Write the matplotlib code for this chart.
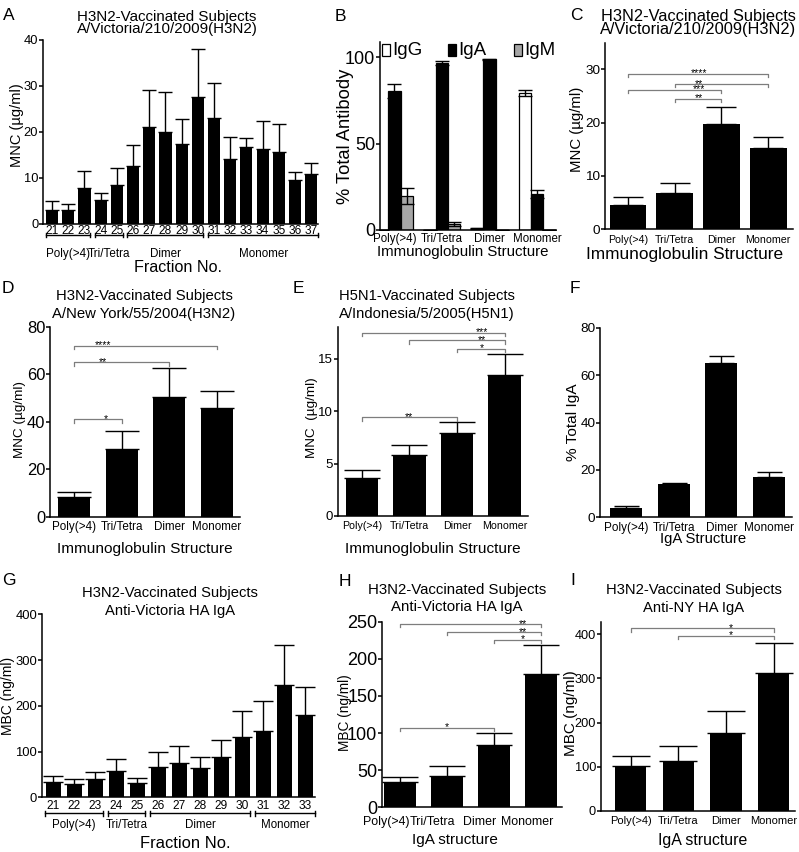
import numpy as np
import matplotlib
matplotlib.use("Agg")
import matplotlib.pyplot as plt
from matplotlib.patches import Rectangle

plt.rcParams["font.family"] = ["Liberation Sans", "DejaVu Sans"]

# ---------------- data ----------------
structures = ["Poly(>4)", "Tri/Tetra", "Dimer", "Monomer"]
group_names = ["Poly(>4)", "Tri/Tetra", "Dimer", "Monomer"]

fractions_a = ["21", "22", "23", "24", "25", "26", "27", "28", "29", "30",
               "31", "32", "33", "34", "35", "36", "37"]
mnc_a = [3.0, 3.0, 7.9, 5.2, 8.5, 12.7, 21.0, 19.9, 17.5, 27.5,
         23.0, 14.2, 16.8, 16.2, 15.7, 9.6, 10.9]
sem_a = [1.9, 1.3, 3.7, 1.5, 3.6, 4.5, 8.1, 8.7, 5.3, 10.6,
         7.6, 4.8, 2.0, 6.1, 6.0, 1.6, 2.4]
groups_a = [(0, 2), (3, 4), (5, 9), (10, 16)]

igg_b = [0.0, 0.0, 1.0, 79.0]
igg_sem_b = [0.0, 0.0, 0.3, 1.8]
iga_b = [80.3, 96.7, 98.8, 20.6]
iga_sem_b = [4.2, 1.3, 0.3, 2.3]
igm_b = [19.6, 3.5, 0.0, 0.0]
igm_sem_b = [4.4, 1.3, 0.0, 0.0]

mnc_c = [4.55, 6.8, 19.7, 15.3]
sem_c = [1.55, 1.9, 3.3, 1.9]
sig_c = [(0, 3, 29.1, "****"), (1, 3, 27.2, "**"), (0, 2, 26.1, "***"), (1, 2, 24.4, "**")]

mnc_d = [8.2, 28.4, 50.5, 45.9]
sem_d = [2.3, 7.7, 12.0, 7.0]
sig_d = [(0, 3, 71.9, "****"), (0, 2, 65.0, "**"), (0, 1, 41.0, "*")]

mnc_e = [3.6, 5.83, 7.9, 13.47]
sem_e = [0.76, 0.95, 1.1, 2.0]
sig_e = [(0, 3, 17.5, "***"), (1, 3, 16.75, "**"), (2, 3, 15.95, "*"), (0, 2, 9.4, "**")]

pct_f = [3.8, 14.05, 65.2, 16.9]
sem_f = [0.8, 0.55, 2.7, 2.1]

fractions_g = ["21", "22", "23", "24", "25", "26", "27", "28", "29", "30",
               "31", "32", "33"]
mbc_g = [32.8, 29.8, 40.8, 57.5, 31.3, 65.6, 75.6, 63.4, 88.7, 131.0,
         145.0, 245.0, 180.0]
sem_g = [13.8, 9.5, 13.8, 25.5, 11.6, 34.1, 37.2, 25.3, 36.3, 57.6,
         66.0, 88.0, 62.0]
groups_g = [(0, 2), (3, 4), (5, 9), (10, 12)]

mbc_h = [33.7, 42.6, 83.5, 179.2]
sem_h = [6.7, 13.5, 17.0, 39.5]
sig_h = [(0, 3, 246.6, "**"), (1, 3, 235.8, "**"), (2, 3, 225.5, "*"), (0, 2, 107.3, "*")]

mbc_i = [102.0, 112.6, 175.5, 311.6]
sem_i = [22.7, 34.8, 50.5, 68.0]
sig_i = [(0, 3, 413.6, "*"), (1, 3, 396.2, "*")]

# ---------------- layout helpers (pixel based) ----------------
W, H = 799, 852
fig = plt.figure(figsize=(W / 100, H / 100), dpi=100)


def axes_px(x0, x1, y0, y1):
    ax = fig.add_axes([x0 / W, 1 - y1 / H, (x1 - x0) / W, (y1 - y0) / H])
    ax.px_box = (x0, x1, y0, y1)
    return ax


def text_px(x, y, s, size, **kw):
    kw.setdefault("ha", "center")
    kw.setdefault("va", "baseline")
    fig.text(x / W, 1 - y / H, s, fontsize=size, **kw)


def style(ax, xlim, ylim, yticks, ysize, xsize, xpad):
    ax.set_xlim(*xlim)
    ax.set_ylim(*ylim)
    ax.set_yticks(yticks)
    for s in ["top", "right"]:
        ax.spines[s].set_visible(False)
    for s in ["left", "bottom"]:
        ax.spines[s].set_linewidth(1.1)
    ax.tick_params(axis="y", length=2.6, width=1.1, pad=0.8, labelsize=ysize)
    ax.tick_params(axis="x", length=0, pad=xpad, labelsize=xsize)


def bars(ax, vals, sems, width, cap):
    x = np.arange(len(vals))
    ax.bar(x, vals, width, color="black", linewidth=0,
           yerr=[np.zeros(len(vals)), sems],
           error_kw=dict(ecolor="black", elinewidth=1.0, capsize=cap, capthick=1.0))
    return x


def sig(ax, specs, star_x):
    y0, y1 = ax.get_ylim()
    hpx = ax.px_box[3] - ax.px_box[2]
    tick = 3.2 * (y1 - y0) / hpx
    for (i, j, y, lab), sx in zip(specs, star_x):
        ax.plot([i, i, j, j], [y - tick, y, y, y - tick], color="#7d7d7d",
                lw=0.9, clip_on=False)
        ax.annotate(lab, (sx, y), xytext=(0, -1.8), textcoords="offset points",
                    ha="center", va="baseline", fontsize=7.5)


def group_brackets(ax, groups, names, y_line, y_lab, size, gap):
    x0, x1, top, bot = ax.px_box
    hpx = bot - top
    f = (bot - y_line) / hpx
    fl = (bot - y_lab) / hpx
    d = 2.4 / hpx
    tr = ax.get_xaxis_transform()
    right = ax.get_xlim()[1]
    for k, ((s, e), name) in enumerate(zip(groups, names)):
        a = s - 0.4 if k == 0 else s - 0.5 + gap
        b = right if k == len(groups) - 1 else e + 0.5 - gap
        ax.plot([a, b], [f, f], transform=tr, color="black", lw=1.0, clip_on=False)
        for xx in (a, b):
            ax.plot([xx, xx], [f - d, f + d], transform=tr, color="black",
                    lw=1.0, clip_on=False)
        ax.text((a + b) / 2, fl, name, transform=tr, ha="center", va="baseline",
                fontsize=size)


# ---------------- A ----------------
axA = axes_px(43, 318, 40, 224)
style(axA, (-0.56, 16.42), (0, 40), [0, 10, 20, 30, 40], 9.3, 8.6, 0.5)
xA = bars(axA, mnc_a, sem_a, 0.75, 5)
axA.set_xticks(xA)
axA.set_xticklabels(fractions_a)
group_brackets(axA, groups_a, group_names, 235, 256.7, 8.4, 0.15)

# ---------------- B ----------------
axB = axes_px(380, 556, 42, 230)
style(axB, (-0.305, 3.4), (0, 108.7), [0, 50, 100], 13, 8.3, 2.5)
wB = 0.257
xB = np.arange(4)
ekw = dict(ecolor="black", elinewidth=1.0, capsize=5, capthick=1.0)
axB.bar(xB - wB, igg_b, wB, color="white", edgecolor="black", linewidth=0.9,
        yerr=igg_sem_b, error_kw=ekw)
axB.bar(xB, iga_b, wB, color="black", edgecolor="black", linewidth=0.9,
        yerr=iga_sem_b, error_kw=ekw)
axB.bar(xB + wB, igm_b, wB, color="#a6a6a6", edgecolor="black", linewidth=0.9,
        yerr=igm_sem_b, error_kw=ekw)
axB.set_xticks(xB)
axB.set_xticklabels(structures)
for lab, col, lx in [("IgG", "white", 382), ("IgA", "black", 448), ("IgM", "#a6a6a6", 514)]:
    fig.patches.append(Rectangle((lx / W, 1 - 56 / H), 7.5 / W, 12 / H,
                                 transform=fig.transFigure, facecolor=col,
                                 edgecolor="black", linewidth=0.9))
    text_px(lx + 10.5, 55, lab, 13.5, ha="left")

# ---------------- C ----------------
axC = axes_px(605, 793, 43, 229.3)
style(axC, (-0.49, 3.53), (0, 34.9), [0, 10, 20, 30], 9.7, 7.7, 4)
xC = bars(axC, mnc_c, sem_c, 0.786, 11)
axC.set_xticks(xC)
axC.set_xticklabels(structures)
sig(axC, sig_c, [1.52, 1.52, 1.52, 1.52])

# ---------------- D ----------------
axD = axes_px(50, 240, 326.7, 516.7)
style(axD, (-0.51, 3.49), (0, 80), [0, 20, 40, 60, 80], 11.9, 8.4, 3)
xD = bars(axD, mnc_d, sem_d, 0.67, 12)
axD.set_xticks(xD)
axD.set_xticklabels(structures)
sig(axD, sig_d, [0.61, 0.61, 0.67])

# ---------------- E ----------------
axE = axes_px(338, 528, 327.3, 516)
style(axE, (-0.5, 3.49), (0, 18.0), [0, 5, 10, 15], 9.5, 7.7, 3.5)
xE = bars(axE, mnc_e, sem_e, 0.68, 13)
axE.set_xticks(xE)
axE.set_xticklabels(structures)
sig(axE, sig_e, [2.53, 2.53, 2.53, 0.99])

# ---------------- F ----------------
axF = axes_px(600, 791.7, 327.7, 517.3)
style(axF, (-0.55, 3.48), (0, 80), [0, 20, 40, 60, 80], 9.7, 8.5, 3.5)
xF = bars(axF, pct_f, sem_f, 0.68, 9)
axF.set_xticks(xF)
axF.set_xticklabels(structures)

# ---------------- G ----------------
axG = axes_px(41.7, 315, 614.3, 797.3)
style(axG, (-0.55, 12.46), (0, 400), [0, 100, 200, 300, 400], 9.4, 8.6, 2)
xG = bars(axG, mbc_g, sem_g, 0.73, 7)
axG.set_xticks(xG)
axG.set_xticklabels(fractions_g)
group_brackets(axG, groups_g, group_names, 813.3, 827.7, 8.3, 0.12)

# ---------------- H ----------------
axH = axes_px(382, 561.7, 621.7, 807.3)
style(axH, (-0.38, 3.44), (0, 250), [0, 50, 100, 150, 200, 250], 13, 8.9, 6)
xH = bars(axH, mbc_h, sem_h, 0.67, 13)
# category labels sit a little left of the bars in this panel
axH.set_xticks(xH - 0.3)
axH.set_xticklabels(structures)
sig(axH, sig_h, [2.62, 2.62, 2.62, 0.99])

# ---------------- I ----------------
axI = axes_px(600.7, 795, 621.7, 810.7)
style(axI, (-0.63, 3.45), (0, 428.6), [0, 100, 200, 300, 400], 9.2, 8.0, 4)
xI = bars(axI, mbc_i, sem_i, 0.66, 14)
axI.set_xticks(xI)
axI.set_xticklabels(structures)
sig(axI, sig_i, [2.1, 2.1])

# ---------------- titles, labels, panel letters ----------------
titles = [
    (167, 20.7, 32.7, 10.9, "H3N2-Vaccinated Subjects", "A/Victoria/210/2009(H3N2)"),
    (698, 21.5, 34.0, 11.8, "H3N2-Vaccinated Subjects", "A/Victoria/210/2009(H3N2)"),
    (144, 300.0, 317.7, 10.7, "H3N2-Vaccinated Subjects", "A/New York/55/2004(H3N2)"),
    (426.7, 300.0, 318.0, 10.6, "H5N1-Vaccinated Subjects", "A/Indonesia/5/2005(H5N1)"),
    (170, 596.7, 615.0, 10.6, "H3N2-Vaccinated Subjects", "Anti-Victoria HA IgA"),
    (457, 594.3, 611.0, 10.8, "H3N2-Vaccinated Subjects", "Anti-Victoria HA IgA"),
    (694, 594.3, 611.7, 10.6, "H3N2-Vaccinated Subjects", "Anti-NY HA IgA"),
]
for x, y1, y2, sz, l1, l2 in titles:
    text_px(x, y1, l1, sz)
    text_px(x, y2, l2, sz)

xlabels = [
    (178, 271.7, 11.6, "Fraction No."),
    (463, 256.4, 10.8, "Immunoglobulin Structure"),
    (685, 259.5, 12.4, "Immunoglobulin Structure"),
    (145, 552.7, 11.1, "Immunoglobulin Structure"),
    (433, 552.7, 11.1, "Immunoglobulin Structure"),
    (703, 543.0, 10.7, "IgA Structure"),
    (185, 848.5, 11.9, "Fraction No."),
    (455, 844.3, 11.0, "IgA structure"),
    (703, 845.0, 11.4, "IgA structure"),
]
for x, y, sz, s in xlabels:
    text_px(x, y, s, sz)

ylabels = [
    (17.5, 125, 10.5, "MNC (µg/ml)"),
    (346, 136, 13.2, "% Total Antibody"),
    (576.7, 129, 10.8, "MNC (µg/ml)"),
    (20, 420, 9.7, "MNC (µg/ml)"),
    (311.7, 418, 9.7, "MNC  (µg/ml)"),
    (572.5, 421.7, 11.1, "% Total IgA"),
    (8.3, 696, 10.0, "MBC (ng/ml)"),
    (345, 713, 9.8, "MBC (ng/ml)"),
    (571.0, 713, 11.0, "MBC (ng/ml)"),
]
for x, y, sz, s in ylabels:
    text_px(x, y, s, sz, va="center", rotation=90)

letters = [("A", 3, 20), ("B", 334.3, 20.7), ("C", 570, 20),
           ("D", 1.7, 293), ("E", 293, 293), ("F", 570, 293),
           ("G", 2, 585), ("H", 339, 585.7), ("I", 570, 585)]
for s, x, y in letters:
    text_px(x, y, s, 12.5, ha="left")

fig.savefig("out.png", dpi=100)
